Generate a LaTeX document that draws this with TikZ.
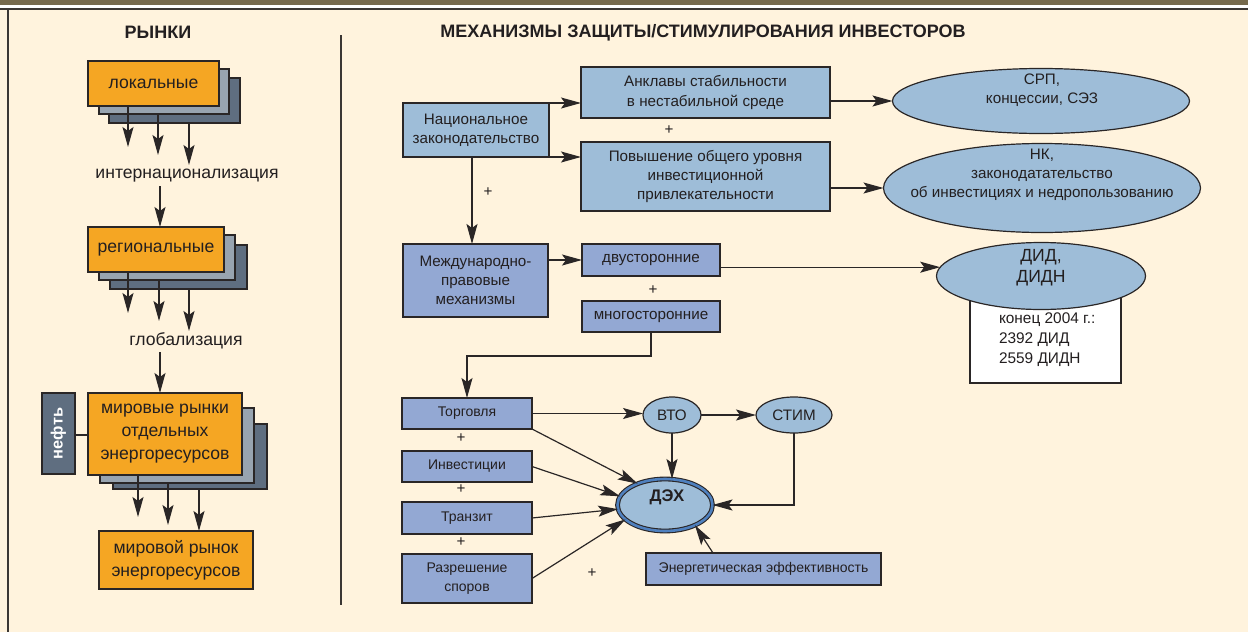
\documentclass[tikz,border=0pt]{standalone}
\usepackage{fontspec}
\setmainfont{Liberation Sans}
\usetikzlibrary{arrows.meta,shapes.geometric}
\definecolor{bg}{HTML}{FFF3DD}
\definecolor{olive}{HTML}{766A4D}
\definecolor{dkline}{HTML}{3A3633}
\definecolor{edge}{HTML}{2A2626}
\definecolor{txt}{HTML}{231F20}
\definecolor{orng}{HTML}{F5A623}
\definecolor{shl}{HTML}{98A4B0}
\definecolor{shd}{HTML}{5F6E80}
\definecolor{lblue}{HTML}{9EBDD8}
\definecolor{pblue}{HTML}{93A8D3}
\definecolor{ringblue}{HTML}{4F80BE}
\newcommand\fL{\fontsize{8.8pt}{11.5pt}\selectfont}
\newcommand\fR{\fontsize{7.6pt}{9.6pt}\selectfont}
\newcommand\fB{\fontsize{7pt}{9.6pt}\selectfont}
\newcommand\fT{\fontsize{9pt}{10pt}\selectfont\bfseries}
\newcommand\fD{\fontsize{8.8pt}{10.5pt}\selectfont}
\newcommand\fW{\fontsize{7.7pt}{10pt}\selectfont}
\newcommand\fO{\fontsize{8.2pt}{10pt}\selectfont\bfseries}
\newcommand\bx[7]{\node[#6,minimum width={(#4-#2)*0.5pt},minimum height={(#5-#3)*0.5pt}] (#1) at ({(#2+#4)/2},{(#3+#5)/2}) {#7};}
\begin{document}
\begin{tikzpicture}[x=0.5pt,y=-0.5pt,
  every node/.style={inner sep=0pt,outer sep=0pt,text=txt},
  obox/.style={draw=edge,line width=0.7pt,fill=orng,align=center,font=\fL},
  sha/.style={draw=edge,line width=0.7pt,fill=shl},
  shb/.style={draw=edge,line width=0.7pt,fill=shd},
  oilbox/.style={draw=edge,line width=0.7pt,fill=shd,text=white,font=\fO},
  lbox/.style={draw=edge,line width=0.7pt,fill=lblue,align=center,font=\fR},
  pbox/.style={draw=edge,line width=0.7pt,fill=pblue,align=center,font=\fR},
  qbox/.style={draw=edge,line width=0.7pt,fill=pblue,align=center,font=\fB},
  wbox/.style={draw=edge,line width=0.7pt,fill=white},
  ell/.style={ellipse,draw=edge,line width=0.6pt,fill=lblue},
  etxt/.style={align=center,font=\fR},
  plus/.style={font=\fR},
  arr/.style={draw=edge,line width=0.6pt,-{Stealth[length=10pt,width=5.5pt,inset=2pt]}},
  lin/.style={draw=edge,line width=0.6pt},
]
\useasboundingbox (0,0) rectangle (1248,632);
% background and frame
\fill[bg] (0,0) rectangle (1248,632);
\fill[olive] (0,0) rectangle (1248,5);
\fill[white] (0,5) rectangle (1248,8);
\draw[line width=0.8pt,dkline] (0,9) -- (1248,9);
\draw[line width=0.8pt,dkline] (8,9) -- (8,632);
\draw[line width=1.2pt,dkline] (341,35) -- (341,605);
% titles
\node[font=\fT] (t1) at (158,32) {РЫНКИ};
\node[font=\fT] (t2) at (703,33) {МЕХАНИЗМЫ ЗАЩИТЫ/СТИМУЛИРОВАНИЯ ИНВЕСТОРОВ};
% ---------- left panel
\bx{loc2}{109}{78}{240}{123}{shb}{}
\bx{loc1}{99}{69}{229}{114}{sha}{}
\bx{loc}{88}{61}{219}{106}{obox}{локальные}
\coordinate (la) at (128,147);
\coordinate (lb) at (158,155);
\coordinate (lc) at (189,165);
\draw[arr] (128,0 |- loc.south) -- (la);
\draw[arr] (158,0 |- loc1.south) -- (lb);
\draw[arr] (189,0 |- loc2.south) -- (lc);
\node[font=\fL] (intl) at (187,176) {интернационализация};
\bx{reg2}{110}{245}{247}{289}{shb}{}
\bx{reg1}{99}{235}{235}{280}{sha}{}
\bx{reg}{88}{227}{224}{272}{obox}{региональные}
\draw[arr] (160,186) -- (160,0 |- reg.north);
\coordinate (ra) at (128,313);
\coordinate (rb) at (159,321);
\coordinate (rc) at (189,331);
\draw[arr] (128,0 |- reg.south) -- (ra);
\draw[arr] (159,0 |- reg1.south) -- (rb);
\draw[arr] (189,0 |- reg2.south) -- (rc);
\node[font=\fL] (glob) at (186,341) {глобализация};
\bx{mir2}{113}{424}{267}{489}{shb}{}
\bx{mir1}{100}{408}{254}{483}{sha}{}
\bx{mir}{88}{393}{242}{475}{obox}{мировые рынки\\отдельных\\энергоресурсов}
\draw[arr] (160,352) -- (160,0 |- mir.north);
\bx{oil}{42}{393}{75}{474}{oilbox}{\rotatebox{90}{нефть}}
\draw[lin] (oil.east |- 0,435) -- (mir.west |- 0,435);
\bx{world}{99}{531}{253}{589}{obox}{мировой рынок\\энергоресурсов}
\coordinate (ma) at (138,517);
\coordinate (mb) at (168,525);
\draw[arr] (138,0 |- mir.south) -- (ma);
\draw[arr] (168,0 |- mir1.south) -- (mb);
\draw[arr] (199,0 |- mir2.south) -- (199,0 |- world.north);
% ---------- right panel
\bx{nat}{403}{103}{549}{157}{lbox}{Национальное\\законодательство}
\bx{ankl}{581}{67}{830}{118}{lbox}{Анклавы стабильности\\в нестабильной среде}
\bx{pov}{581}{142}{830}{211}{lbox}{Повышение общего уровня\\инвестиционной\\привлекательности}
\node[plus] (p1) at (669,130) {+};
\node[ell,minimum width=148.5pt,minimum height=32.5pt] (srp) at (1041,101) {};
\node[etxt] (srpt) at (1042,90) {СРП,\\концессии, СЭЗ};
\node[ell,minimum width=158.5pt,minimum height=44.5pt] (nk) at (1042,188) {};
\node[etxt] (nkt) at (1042,175) {НК,\\законодатательство\\об инвестициях и недропользованию};
\draw[arr] (nat.north east) -- (nat.north east -| ankl.west);
\draw[arr] (nat.south east) -- (nat.south east -| pov.west);
\draw[arr] (ankl.east |- srp.west) -- (srp.west);
\draw[arr] (pov.east |- nk.west) -- (nk.west);
\bx{mezh}{403}{244}{548}{317}{pbox}{Международно-\\правовые\\механизмы}
\draw[arr] (472,0 |- nat.south) -- (472,0 |- mezh.north);
\node[plus] (p2) at (488,192) {+};
\bx{dvu}{582}{244}{720}{276}{pbox}{двусторонние}
\bx{mno}{582}{301}{720}{332}{pbox}{многосторонние}
\node[plus] (p3) at (653,290) {+};
\draw[arr] (mezh.east |- dvu.west) -- (dvu.west);
\bx{wb}{970}{295}{1121}{383}{wbox}{}
\node[font=\fW,align=left,anchor=west] (wbt) at (999,340) {конец 2004 г.:\\2392 ДИД\\2559 ДИДН};
\node[ell,minimum width=104.5pt,minimum height=33.5pt] (did) at (1041,276) {};
\node[align=center,font=\fD] (didt) at (1041,268) {ДИД,\\ДИДН};
\draw[arr] (dvu.east |- did.175) -- (did.175);
\bx{torg}{402}{398}{532}{429}{qbox}{Торговля}
\bx{inv}{402}{451}{532}{482}{qbox}{Инвестиции}
\bx{tran}{402}{502}{532}{534}{qbox}{Транзит}
\bx{razr}{402}{554}{532}{603}{qbox}{Разрешение\\споров}
\node[plus] (p4) at (461,438) {+};
\node[plus] (p5) at (461,489) {+};
\node[plus] (p6) at (461,542) {+};
\node[plus] (p7) at (592,573) {+};
\draw[arr] (mno.south) -- ++(0,24) -| (torg.north);
\node[ell,minimum width=29pt,minimum height=18pt,font=\fR] (vto) at (672,415) {ВТО};
\node[ell,minimum width=38pt,minimum height=18pt,font=\fR] (stim) at (794,415) {СТИМ};
\node[ellipse,draw=edge,line width=0.55pt,double=ringblue,double distance=1.3pt,fill=lblue,minimum width=47.5pt,minimum height=26pt] (deh) at (665,505) {};
\node[font=\fontsize{8.4pt}{10pt}\selectfont\bfseries] (deht) at (667,497) {ДЭХ};
\bx{ee}{646}{553}{881}{585}{qbox}{Энергетическая эффективность}
\draw[arr] (torg.east) -- (torg.east -| vto.west);
\draw[arr] (vto.east) -- (stim.west);
\draw[arr] (vto.south) -- (vto.south |- deh.north);
\draw[arr] (stim.south) |- (deh.east);
\draw[arr] (torg.south east) -- (deh.142);
\draw[arr] (inv.east) -- (deh.169);
\draw[arr] (tran.east) -- (deh.185);
\draw[arr] (razr.east) -- (deh.200);
\draw[arr] (713,0 |- ee.north) -- (deh.326);
\end{tikzpicture}
\end{document}
